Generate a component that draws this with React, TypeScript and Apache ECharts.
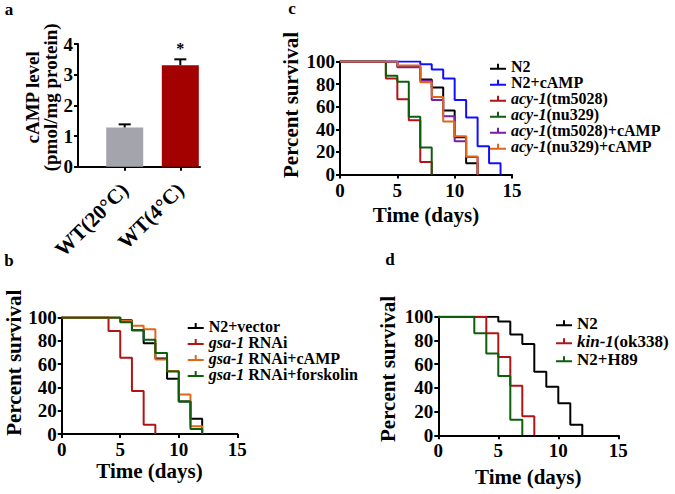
import React, { useEffect, useRef } from 'react';
import * as echarts from 'echarts';

const FONT = '"Liberation Serif", "Times New Roman", serif';

// ---- Panel a: cAMP level ----
const aCategories = ['WT(20°C)', 'WT(4°C)'];
const aValues = [1.28, 3.31];
const aErrors = [0.1, 0.19];
const aSignif = ['', '*'];
const aColors = ['#a4a4ac', '#a30000'];

// ---- Panel c: survival [day, percent] ----
const cNames = ['N2', 'N2+cAMP', 'acy-1(tm5028)', 'acy-1(nu329)', 'acy-1(tm5028)+cAMP', 'acy-1(nu329)+cAMP'];
const cN2 = [[0, 100], [5, 96], [7, 84], [8, 77], [9, 56.7], [10, 33], [11, 10], [12, 0]];
const cN2cAMP = [[0, 100], [7, 97.5], [8, 93], [9, 85], [10, 66], [11, 50.5], [12, 25], [13, 10], [14, 0]];
const cTm5028 = [[0, 100], [4, 85], [5, 66.5], [6, 48], [7, 11], [8, 0]];
const cNu329 = [[0, 100], [4, 87.5], [5, 82], [6, 51], [7, 24], [8, 0]];
const cTm5028cAMP = [[0, 100], [5, 95], [7, 83], [8, 66], [9, 51.5], [10, 29.5], [11, 15.5], [12, 0]];
const cNu329cAMP = [[0, 100], [5, 96.5], [7, 81.7], [8, 68.5], [9, 47], [10, 33.8], [11, 16], [12, 0]];
const cColors = ['#000000', '#1010ff', '#b01515', '#0d5e0d', '#7a1fa0', '#e0661a'];

// ---- Panel b ----
const bNames = ['N2+vector', 'gsa-1 RNAi', 'gsa-1 RNAi+cAMP', 'gsa-1 RNAi+forskolin'];
const bVector = [[0, 100], [5, 97.7], [6, 89], [7, 78], [8, 64.7], [9, 47.4], [10, 28], [11, 13], [12, 0]];
const bRNAi = [[0, 100], [4, 88.5], [5, 65.5], [6, 37], [7, 8], [8, 0]];
const bCAMP = [[0, 100], [5, 97], [6, 93], [7, 90], [8, 64], [9, 54], [10, 34], [11, 6.6], [12, 0]];
const bForskolin = [[0, 100], [5, 96], [6, 89], [7, 81], [8, 69.5], [9, 53.7], [10, 28], [11, 4.3], [12, 0]];
const bColors = ['#000000', '#b01515', '#e0661a', '#0d5e0d'];

// ---- Panel d ----
const dNames = ['N2', 'kin-1(ok338)', 'N2+H89'];
const dN2 = [[0, 100], [5, 96], [6, 85], [7, 77], [8, 53.5], [9, 41], [10, 27], [11, 9], [12, 0]];
const dKin1 = [[0, 100], [4, 86], [5, 66], [6, 41.7], [7, 16], [8, 0]];
const dH89 = [[0, 100], [3, 86], [4, 69], [5, 50], [6, 13.2], [7, 0]];
const dColors = ['#000000', '#b01515', '#0d5e0d'];

const timeTicks = { min: 0, max: 15, interval: 5 };
const survTicks = { min: 0, max: 100, interval: 20 };
const aTicks = { min: 0, max: 4, interval: 1 };

const ICON = 'path://M0,4h16v2h-16z M7,0h2v4h-2z';

const S = (fs: number) => ({ fontFamily: FONT, fontWeight: 'bold' as const, fontSize: fs, color: '#000' });

const axisLine = { show: true, onZero: false, lineStyle: { color: '#000', width: 2 } };
const axisTick = { show: true, length: 4, lineStyle: { color: '#000', width: 2 } };

function yAxis(gridIndex: number, t: any, name: string, nameGap: number, shift: number, fs = 21, lh?: number) {
  return {
    type: 'value', gridIndex, min: t.min, max: t.max, interval: t.interval,
    name, nameLocation: 'middle', nameGap, nameRotate: 90,
    nameTextStyle: { ...S(fs), lineHeight: lh, padding: [0, 0, 0, shift] },
    axisLine, axisTick,
    axisLabel: { ...S(19), margin: 5 },
    splitLine: { show: false },
  };
}

function timeAxis(gridIndex: number, nameGap: number) {
  return {
    type: 'value', gridIndex, ...timeTicks,
    name: 'Time (days)', nameLocation: 'middle', nameGap,
    nameTextStyle: S(21),
    axisLine, axisTick,
    axisLabel: { ...S(19), margin: 6 },
    splitLine: { show: false },
  };
}

function display(name: string) {
  const m = name.match(/^(acy-1|gsa-1|kin-1)(.*)$/);
  if (m) return `{i|${m[1]}}{n|${m[2]}}`;
  return `{n|${name}}`;
}

function legend(names: string[], left: number, top: number, lh: number, fs: number) {
  return {
    orient: 'vertical', left, top, itemWidth: 16, itemHeight: 6, itemGap: 0,
    icon: ICON, selectedMode: false,
    data: names,
    formatter: (n: string) => display(n.replace(/^[a-d]:/, '')),
    itemStyle: { borderWidth: 0 },
    textStyle: {
      ...S(fs), lineHeight: lh, padding: [0, 0, 0, 0],
      rich: {
        i: { ...S(fs), fontStyle: 'italic', lineHeight: lh },
        n: { ...S(fs), lineHeight: lh },
      },
    },
  };
}

function lineSeries(name: string, data: number[][], color: string, idx: number) {
  return {
    type: 'line', name, data, step: 'end', xAxisIndex: idx, yAxisIndex: idx,
    showSymbol: false, symbol: 'none', lineStyle: { color, width: 2 }, itemStyle: { color },
  };
}

export default function App() {
  const ref = useRef<HTMLDivElement>(null);
  useEffect(() => {
    if (!ref.current) return;
    const chart = echarts.init(ref.current, null, { renderer: 'svg' });

    const cData = [cN2, cN2cAMP, cTm5028, cNu329, cTm5028cAMP, cNu329cAMP];
    const bData = [bVector, bRNAi, bCAMP, bForskolin];
    const dData = [dN2, dKin1, dH89];
    const cKeys = cNames.map((n) => 'c:' + n);
    const bKeys = bNames.map((n) => 'b:' + n);
    const dKeys = dNames.map((n) => 'd:' + n);

    const barData = aValues.map((v, i) => ({ value: [i + 1, v], itemStyle: { color: aColors[i] } }));
    const errData = aValues.map((v, i) => [i + 1, v, aErrors[i], i]);

    const option: any = {
      animation: false,
      backgroundColor: '#fff',
      textStyle: { fontFamily: FONT },
      grid: [
        { left: 78, top: 44, width: 122, height: 122.7 },
        { left: 340, top: 61.5, width: 172, height: 113 },
        { left: 61.7, top: 317.5, width: 175.6, height: 116.5 },
        { left: 438.3, top: 316.7, width: 180, height: 118.6 },
      ],
      xAxis: [
        {
          type: 'value', gridIndex: 0, min: 0.16, max: 2.354,
          axisLine, axisTick: { ...axisTick, customValues: [1, 2] },
          axisLabel: {
            ...S(21), customValues: [1, 2], rotate: 45, margin: 20,
            formatter: (v: number) => aCategories[Math.round(v) - 1] ?? '',
          },
          splitLine: { show: false },
        },
        timeAxis(1, 30),
        timeAxis(2, 26),
        timeAxis(3, 31),
      ],
      yAxis: [
        yAxis(0, aTicks, 'cAMP level\n(pmol/mg protein)', 11, 16, 19, 18),
        yAxis(1, survTicks, 'Percent survival', 39, 26),
        yAxis(2, survTicks, 'Percent survival', 36, 26),
        yAxis(3, survTicks, 'Percent survival', 40, 14),
      ],
      legend: [
        legend(cKeys, 485, 53.7, 16, 16),
        legend(bKeys, 182.7, 313, 16, 16),
        legend(dKeys, 551, 309.3, 18, 17),
      ],
      series: [
        { type: 'bar', xAxisIndex: 0, yAxisIndex: 0, barWidth: 37, data: barData },
        {
          type: 'custom', xAxisIndex: 0, yAxisIndex: 0, data: errData, z: 3,
          renderItem: (params: any, api: any) => {
            const x = api.value(0), y = api.value(1), e = api.value(2);
            const top = api.coord([x, y + e]);
            const base = api.coord([x, y]);
            const children: any[] = [
              { type: 'line', shape: { x1: top[0], y1: base[1], x2: top[0], y2: top[1] }, style: { stroke: '#000', lineWidth: 2 } },
              { type: 'line', shape: { x1: top[0] - 6, y1: top[1], x2: top[0] + 6, y2: top[1] }, style: { stroke: '#000', lineWidth: 2 } },
            ];
            const sig = aSignif[params.dataIndex];
            if (sig) {
              children.push({
                type: 'text', x: top[0], y: top[1] - 3,
                style: { text: sig, fill: '#000', font: `bold 16px ${FONT}`, align: 'center', verticalAlign: 'bottom' },
              });
            }
            return { type: 'group', children };
          },
        },
        ...cKeys.map((k, i) => lineSeries(k, cData[i], cColors[i], 1)),
        ...bKeys.map((k, i) => lineSeries(k, bData[i], bColors[i], 2)),
        ...dKeys.map((k, i) => lineSeries(k, dData[i], dColors[i], 3)),
      ],
      graphic: [
        { type: 'text', x: 9, y: 9, style: { text: 'a', fill: '#000', font: `bold 17px ${FONT}`, align: 'center', verticalAlign: 'middle' } },
        { type: 'text', x: 292, y: 8, style: { text: 'c', fill: '#000', font: `bold 17px ${FONT}`, align: 'center', verticalAlign: 'middle' } },
        { type: 'text', x: 9, y: 260, style: { text: 'b', fill: '#000', font: `bold 17px ${FONT}`, align: 'center', verticalAlign: 'middle' } },
        { type: 'text', x: 390, y: 259, style: { text: 'd', fill: '#000', font: `bold 17px ${FONT}`, align: 'center', verticalAlign: 'middle' } },
      ],
    };
    chart.setOption(option);
    return () => chart.dispose();
  }, []);
  return <div ref={ref} style={{ position: 'fixed', left: 0, top: 0, width: 675, height: 494 }} />;
}
